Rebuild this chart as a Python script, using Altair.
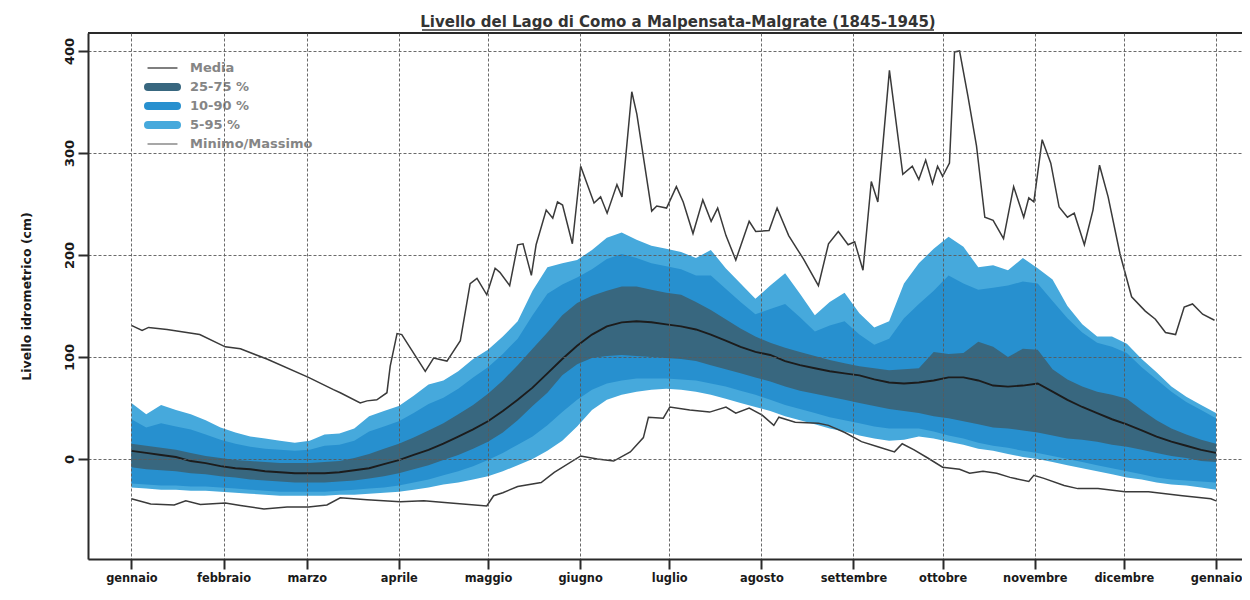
import json
import altair as alt
import pandas as pd

# ---------------- data ----------------
months = ["gennaio", "febbraio", "marzo", "aprile", "maggio", "giugno", "luglio",
          "agosto", "settembre", "ottobre", "novembre", "dicembre", "gennaio"]
month_start = [0, 31, 59, 90, 120, 151, 181, 212, 243, 273, 304, 334, 365]
y_ticks = [0, 100, 200, 300, 400]
title_text = ["Livello del Lago di Como a Malpensata-Malgrate (1845-1945)"]

band_day = list(range(0, 366, 5))

mean = [8, 6, 4, 2, -2, -4, -7, -9, -10, -12, -13, -14, -14, -14, -13, -11, -9, -5, -1, 4,
        9, 15, 22, 29, 37, 47, 58, 70, 84, 98, 111, 122, 130, 134, 135, 134, 132, 130, 127, 122,
        116, 110, 105, 102, 96, 92, 89, 86, 84, 82, 78, 75, 74, 75, 77, 80, 80, 77, 72, 71,
        72, 74, 66, 58, 51, 45, 39, 34, 28, 22, 17, 13, 9, 6]

p5 = [-28, -29, -30, -30, -31, -31, -32, -33, -34, -35, -36, -36, -36, -36, -35, -35, -34, -33, -32, -30,
      -28, -25, -23, -20, -17, -12, -6, 0, 8, 18, 32, 48, 58, 63, 66, 68, 69, 68, 66, 63,
      59, 55, 51, 47, 42, 38, 34, 30, 27, 23, 20, 18, 19, 22, 20, 17, 14, 10, 8, 5,
      2, 0, -3, -6, -9, -12, -15, -18, -20, -23, -25, -26, -28, -30]

p10 = [-24, -25, -26, -26, -27, -27, -28, -29, -30, -31, -32, -32, -32, -32, -31, -30, -29, -28, -26, -23,
       -20, -16, -12, -7, -1, 6, 14, 22, 33, 46, 58, 68, 74, 77, 79, 79, 79, 78, 77, 74,
       71, 67, 63, 58, 53, 49, 45, 41, 38, 35, 32, 30, 30, 30, 27, 23, 20, 16, 13, 11,
       8, 6, 3, 0, -3, -6, -9, -12, -15, -18, -20, -21, -22, -23]

p25 = [-8, -10, -11, -12, -14, -15, -17, -18, -20, -21, -22, -23, -23, -23, -22, -21, -19, -17, -14, -10,
       -6, -1, 4, 10, 17, 26, 38, 52, 65, 82, 93, 99, 101, 102, 101, 100, 99, 98, 96, 92,
       88, 84, 80, 76, 71, 67, 64, 61, 58, 55, 52, 49, 47, 45, 42, 40, 37, 34, 31, 30,
       28, 26, 23, 20, 19, 17, 14, 12, 9, 6, 3, 1, -2, -3]

p75 = [15, 13, 11, 9, 6, 3, 1, -1, -2, -3, -4, -4, -4, -3, -2, 1, 5, 10, 15, 21,
       28, 35, 44, 53, 64, 77, 92, 108, 124, 141, 153, 160, 165, 169, 169, 166, 163, 161, 154, 146,
       137, 128, 120, 114, 109, 105, 101, 97, 94, 91, 89, 87, 88, 89, 105, 103, 104, 115, 110, 100,
       108, 107, 88, 78, 71, 66, 63, 59, 48, 38, 30, 24, 19, 15]

p90 = [39, 31, 35, 32, 29, 24, 19, 15, 12, 10, 9, 8, 9, 13, 14, 18, 27, 32, 37, 45,
       54, 60, 69, 80, 90, 103, 118, 141, 162, 171, 178, 186, 196, 201, 197, 192, 189, 186, 180, 180,
       167, 154, 142, 147, 152, 139, 125, 131, 135, 122, 112, 118, 138, 152, 165, 180, 172, 166, 168, 170,
       174, 172, 155, 138, 124, 114, 110, 104, 90, 78, 66, 56, 48, 40]

p95 = [55, 44, 53, 48, 44, 38, 31, 26, 22, 20, 18, 16, 18, 24, 25, 30, 42, 47, 52, 62,
       73, 77, 86, 98, 107, 120, 135, 165, 188, 192, 195, 205, 217, 222, 215, 209, 206, 203, 197, 205,
       187, 172, 157, 170, 182, 162, 141, 154, 163, 143, 129, 135, 172, 192, 206, 218, 208, 188, 190, 185,
       197, 187, 176, 150, 132, 120, 120, 113, 98, 85, 71, 61, 53, 45]

max_day = [0, 3.6, 5.8, 12, 23, 31.6, 36.7, 45.6, 59.6, 68, 70.3, 77, 79.3, 82.6, 86, 87.1, 89.4, 91,
           98.9, 101.7, 106.2, 110.7, 114, 116.3, 119.6, 122.4, 124, 127.3, 130, 131.8, 134.6, 136.2,
           139.6, 141.8, 143.4, 145.1, 148.4, 151.2, 155.7, 157.9, 160.1, 163.4, 165.1, 168.4, 170.1,
           175.1, 176.8, 180.1, 183.4, 185.7, 189, 192.3, 195.1, 197.3, 200.1, 203.4, 207.9, 210.1,
           214.6, 217.3, 221.2, 224, 226.2, 231.2, 234.6, 237.9, 241.2, 243.4, 246.2, 249, 251.2,
           255.1, 259.6, 262.8, 265, 267.3, 269.6, 271.3, 273, 275.3, 277, 278.7, 281.5, 284.4,
           287.2, 290, 293.5, 296.9, 300.3, 302, 303.7, 306.5, 309.4, 312.2, 315, 317.3, 320.7,
           323.6, 325.8, 328.7, 332.7, 336.6, 341.2, 344.6, 348, 351.4, 354.3, 357.1, 360.5, 364.5]
max_val = [131, 126, 129, 127, 122, 110, 108, 98, 80, 68, 65, 55, 57, 58, 65, 91, 123, 122,
           86, 99, 96, 116, 172, 177, 161, 187, 183, 170, 210, 211, 180, 210,
           244, 236, 252, 249, 211, 287, 251, 257, 241, 269, 257, 360, 338,
           243, 248, 246, 267, 252, 221, 254, 233, 246, 219, 195, 233, 223,
           224, 246, 219, 206, 196, 170, 211, 223, 210, 213, 185, 272, 252,
           381, 279, 287, 274, 293, 270, 287, 277, 290, 399, 400, 356, 307,
           237, 234, 216, 267, 237, 256, 252, 313, 290, 247, 237, 241, 210,
           244, 288, 257, 201, 159, 145, 137, 124, 122, 149, 152, 142, 136]

min_day = [0, 6.5, 14.4, 18.3, 23.2, 31.6, 36.7, 44.6, 52.4, 59.6, 65.8, 70.3, 79.3, 90.5, 98.4,
           107.4, 119.6, 121.9, 125, 130, 137.9, 142.3, 151.2, 156.8, 162.3, 167.9, 172.3, 174,
           179, 181.2, 187.9, 194.6, 200.1, 203.4, 207.9, 212.3, 216.2, 217.9, 223.4, 231.2, 234.6,
           240.1, 245.7, 251.2, 256.8, 259.4, 263.4, 268, 273, 278.7, 282.1, 286.6, 291.2, 295.7,
           302, 303.7, 307.1, 313.9, 318.5, 325.3, 334.4, 342.3, 353.7, 363.3, 365]
min_val = [-39, -44, -45, -41, -44.5, -43, -45.5, -49, -47, -47, -45, -38, -40, -42, -41,
           -43, -46, -36, -33, -27, -23, -13, 3, 0, -2, 7, 21, 41,
           40, 51, 48, 46, 51, 45, 50, 43, 33, 41, 36, 35, 33,
           26, 17, 12, 7, 15, 9, 1, -8, -10, -14, -12, -14, -18,
           -22, -16, -19, -26, -29, -29, -32, -32, -36, -39, -41]

legend_labels = ["Media", "25-75 %", "10-90 %", "5-95 %", "Minimo/Massimo"]

# ---------------- styling ----------------
LIGHT = "#46a9dc"
MEDIUM = "#2790cf"
DARK = "#38677f"
MEAN_C = "#1c1c1c"
EXT_C = "#3a3a3a"
FONT = "DejaVu Sans"

W, H = 1154, 526
X_DOM = [-14.6, 373.75]
Y_DOM = [-98, 417.6]

bands = pd.DataFrame(dict(day=band_day, mean=mean, p5=p5, p10=p10, p25=p25,
                          p75=p75, p90=p90, p95=p95))
ext = pd.concat([
    pd.DataFrame({"day": max_day, "val": max_val, "kind": "max"}),
    pd.DataFrame({"day": min_day, "val": min_val, "kind": "min"}),
], ignore_index=True)

legend_df = pd.DataFrame({
    "label": legend_labels,
    "row": list(range(len(legend_labels))),
    "c": ["#555555", DARK, MEDIUM, LIGHT, "#8a8a8a"],
    "w": [1.3, 8, 8, 8, 1.3],
})

label_expr = f"{json.dumps(months)}[indexof({json.dumps(month_start)}, datum.value)]"

x_scale = alt.Scale(domain=X_DOM, nice=False, zero=False)
y_scale = alt.Scale(domain=Y_DOM, nice=False, zero=False)

grid_style = dict(grid=True, gridDash=[3, 2], gridColor="#5a5a5a", gridWidth=1, gridOpacity=0.9)
x_axis = alt.Axis(values=month_start, labelExpr=label_expr, title=None, labelOverlap=False,
                  labelFlush=False, tickSize=10, tickWidth=2, tickColor="#2a2a2a",
                  domainColor="#2a2a2a", domainWidth=2, labelFont=FONT, labelFontWeight="bold",
                  labelFontSize=11.4, labelColor="#1a1a1a", labelPadding=3, zindex=1, **grid_style)
y_axis = alt.Axis(values=y_ticks, title="Livello idrometrico (cm)", labelAngle=270,
                  labelAlign="center", labelBaseline="bottom", labelPadding=2,
                  tickSize=10, tickWidth=2, tickColor="#2a2a2a", domainColor="#2a2a2a",
                  domainWidth=2, labelFont=FONT, labelFontWeight="bold", labelFontSize=13,
                  labelColor="#1a1a1a", titleFont=FONT, titleFontWeight="bold",
                  titleFontSize=12.5, titleColor="#1a1a1a", titlePadding=30, zindex=1,
                  **grid_style)

X = alt.X("day:Q", scale=x_scale, axis=x_axis)


def Y(field):
    return alt.Y(f"{field}:Q", scale=y_scale, axis=y_axis)


base = alt.Chart(bands)
light = base.mark_area(color=LIGHT).encode(x=X, y=Y("p5"), y2="p95:Q")
medium = base.mark_area(color=MEDIUM).encode(x=X, y=Y("p10"), y2="p90:Q")
dark = base.mark_area(color=DARK).encode(x=X, y=Y("p25"), y2="p75:Q")
mean_line = base.mark_line(color=MEAN_C, strokeWidth=1.9).encode(x=X, y=Y("mean"))
ext_lines = alt.Chart(ext).mark_line(color=EXT_C, strokeWidth=1.5).encode(
    x=X, y=Y("val"), detail="kind:N")

one = pd.DataFrame({"k": [0]})
top_frame = alt.Chart(one).mark_rule(color="#2a2a2a", strokeWidth=2).encode(
    x=alt.datum(X_DOM[0], scale=x_scale, axis=x_axis),
    x2=alt.datum(X_DOM[1]),
    y=alt.datum(Y_DOM[1], scale=y_scale, axis=y_axis))

title_df = pd.DataFrame({"t": title_text})
title_mark = alt.Chart(title_df).mark_text(
    align="center", baseline="alphabetic", font=FONT, fontSize=15, fontWeight="bold",
    color="#333333").encode(x=alt.value(590), y=alt.value(-6), text="t:N")
underline = alt.Chart(one).mark_rule(color="#333333", strokeWidth=1.4).encode(
    x=alt.value(334), x2=alt.value(846), y=alt.value(-3))

main = alt.layer(light, medium, dark, mean_line, ext_lines, top_frame, title_mark, underline)

leg_y = alt.Y("row:Q", scale=alt.Scale(domain=[0, 4], range=[35, 111]), axis=None)
leg_sym = alt.Chart(legend_df).mark_rule(strokeCap="round").encode(
    x=alt.value(60), x2=alt.value(89), y=leg_y,
    color=alt.Color("c:N", scale=None),
    strokeWidth=alt.StrokeWidth("w:Q", scale=None))
leg_txt = alt.Chart(legend_df).mark_text(
    align="left", baseline="middle", font=FONT, fontSize=13, fontWeight="bold",
    color="#858585").encode(x=alt.value(102), y=leg_y, text="label:N")
legend = alt.layer(leg_sym, leg_txt)

chart = alt.layer(main, legend).resolve_scale(y="independent").properties(
    width=W, height=H,
    autosize=alt.AutoSizeParams(type="none"),
    padding={"left": 80, "top": 25, "right": 0, "bottom": 30},
).configure_view(stroke=None).configure(background="white")

chart.save("out.html", embed_options={"renderer": "svg", "actions": False})
